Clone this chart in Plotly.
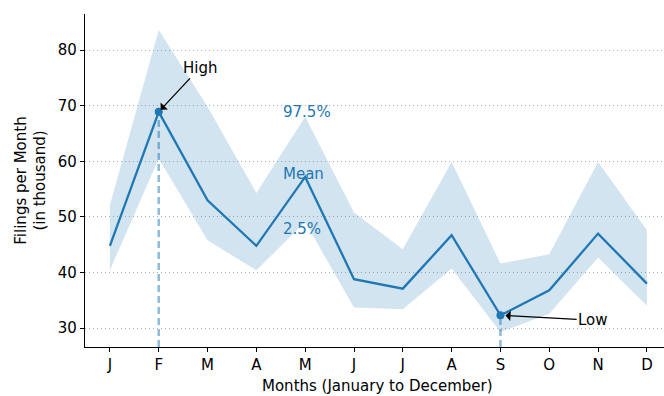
import plotly.graph_objects as go

months = ["J", "F", "M", "A", "M", "J", "J", "A", "S", "O", "N", "D"]
mean_vals = [44.8, 68.9, 53.0, 44.8, 57.2, 38.8, 37.1, 46.7, 32.3, 36.8, 47.0, 38.0]
upper_vals = [52.1, 83.6, 69.8, 54.3, 68.0, 50.8, 44.2, 59.9, 41.6, 43.3, 59.9, 47.6]
lower_vals = [40.4, 60.5, 45.8, 40.4, 49.1, 33.7, 33.4, 40.7, 29.3, 32.6, 42.7, 34.0]
y_ticks = [30, 40, 50, 60, 70, 80]

BLUE = "#1f77b4"
FONT = "DejaVu Sans"
FS = 15
x = list(range(len(months)))
y_range = [26.6, 86.5]

hi = max(range(len(mean_vals)), key=lambda i: mean_vals[i])
lo = min(range(len(mean_vals)), key=lambda i: mean_vals[i])

fig = go.Figure()

# 2.5%–97.5% band
fig.add_trace(go.Scatter(x=x, y=lower_vals, mode="lines", line=dict(width=0),
                         hoverinfo="skip", showlegend=False))
fig.add_trace(go.Scatter(x=x, y=upper_vals, mode="lines", line=dict(width=0),
                         fill="tonexty", fillcolor="rgba(31,119,180,0.2)",
                         hoverinfo="skip", showlegend=False))

# dashed drop lines at the extremes
for i in (hi, lo):
    fig.add_trace(go.Scatter(x=[i, i], y=[y_range[0], mean_vals[i]], mode="lines",
                             line=dict(color="rgba(31,119,180,0.5)", width=2.5, dash="7px,4px"),
                             showlegend=False, hoverinfo="skip"))

# mean line
fig.add_trace(go.Scatter(x=x, y=mean_vals, mode="lines", line=dict(color=BLUE, width=2.3),
                         showlegend=False))
fig.add_trace(go.Scatter(x=[hi, lo], y=[mean_vals[hi], mean_vals[lo]], mode="markers",
                         marker=dict(color=BLUE, size=8), showlegend=False))

annotations = [
    dict(x=hi, y=mean_vals[hi], ax=1.84, ay=76.8, axref="x", ayref="y", xref="x", yref="y",
         text="High", showarrow=True, arrowhead=1, arrowsize=1.3, arrowwidth=1.3,
         arrowcolor="black", standoff=3, font=dict(size=FS, color="black")),
    dict(x=lo, y=mean_vals[lo], ax=9.9, ay=31.4, axref="x", ayref="y", xref="x", yref="y",
         text="Low", showarrow=True, arrowhead=1, arrowsize=1.3, arrowwidth=1.3,
         arrowcolor="black", standoff=5, font=dict(size=FS, color="black")),
    dict(x=3.5, y=68.85, xref="x", yref="y", text="97.5%", showarrow=False,
         xanchor="left", font=dict(size=FS, color=BLUE)),
    dict(x=3.5, y=57.7, xref="x", yref="y", text="Mean", showarrow=False,
         xanchor="left", font=dict(size=FS, color=BLUE)),
    dict(x=3.5, y=47.8, xref="x", yref="y", text="2.5%", showarrow=False,
         xanchor="left", font=dict(size=FS, color=BLUE)),
    # x-axis title, set a little lower than the default axis title
    dict(x=0.506, y=0, xref="paper", yref="paper", yshift=-39, yanchor="middle",
         text="Months (January to December)", showarrow=False,
         font=dict(size=FS, color="black")),
]

fig.update_layout(
    width=664, height=396,
    margin=dict(l=85, r=0, t=14, b=49),
    paper_bgcolor="white", plot_bgcolor="white",
    font=dict(family=FONT, size=FS, color="black"),
    annotations=annotations,
    xaxis=dict(
        tickmode="array", tickvals=x, ticktext=months, range=[-0.51, 11.35],
        showgrid=False, zeroline=False, showline=True, linecolor="black", linewidth=1.2,
        ticks="outside", ticklen=4, tickcolor="black", automargin=False,
    ),
    yaxis=dict(
        tickmode="array", tickvals=y_ticks, range=y_range,
        showgrid=True, gridcolor="#b0b0b0", griddash="1px,3px", gridwidth=1,
        zeroline=False, showline=True, linecolor="black", linewidth=1.2,
        ticks="outside", ticklen=4, tickcolor="black",
        title=dict(text="Filings per Month<br>(in thousand)", font=dict(size=FS), standoff=8),
    ),
)

fig.write_html("out.html")
